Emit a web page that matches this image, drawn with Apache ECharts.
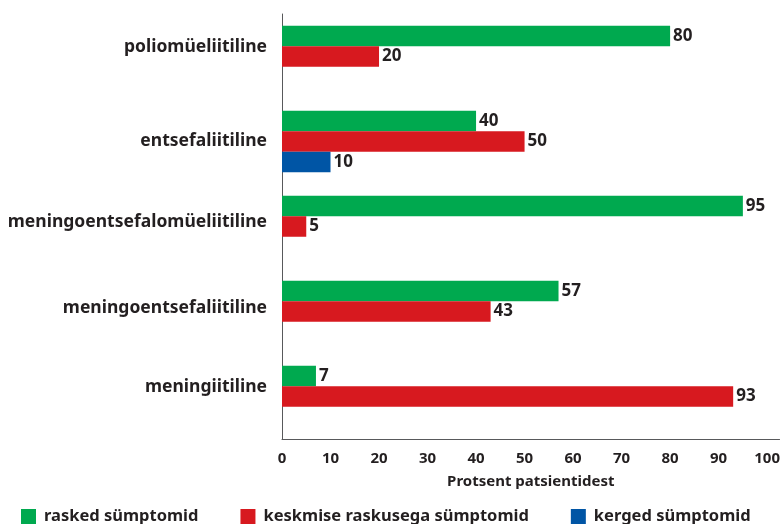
<!DOCTYPE html>
<html>
<head>
<meta charset="utf-8">
<script src="https://cdn.jsdelivr.net/npm/echarts@6/dist/echarts.min.js"></script>
<style>
    html, body { margin: 0; padding: 0; background: #fff; }
    #chart { width: 783px; height: 524px; }
</style>
</head>
<body>
<div id="chart"></div>
<script>
// andmed
var categories = ['poliomüeliitiline', 'entsefaliitiline', 'meningoentsefalomüeliitiline', 'meningoentsefaliitiline', 'meningiitiline'];
var rasked = [80, 40, 95, 57, 7];
var keskmised = [20, 50, 5, 43, 93];
var kerged = [null, 10, null, null, null];
var seriesNames = ['rasked sümptomid', 'keskmise raskusega sümptomid', 'kerged sümptomid'];

(function () {
    var myChart = echarts.init(document.getElementById('chart'));
    var font = 'Noto Sans';
    var textColor = '#231f20';
    // silt nihutatakse veidi üles, kui kategooria kolmas tulp puudub
    var shiftStyle = ['s10', 'c', 's5', 's4', 's10'];
    var labelStyle = { fontFamily: font, fontWeight: 'bold', fontSize: 17.5, color: textColor };

    function barSeries(name, data) {
        return {
            name: name,
            type: 'bar',
            data: data,
            barGap: 0,
            barCategoryGap: '27.6%',
            label: {
                show: true,
                position: 'right',
                distance: 3,
                fontFamily: font,
                fontWeight: 'bold',
                fontSize: 17,
                color: textColor
            }
        };
    }

    var option = {
        animation: false,
        color: ['#00a94f', '#d7191f', '#0055a5'],
        grid: {
            left: 282,
            right: 0,
            top: 14,
            bottom: 85
        },
        legend: {
            left: 16,
            top: 503,
            icon: 'rect',
            itemWidth: 15,
            itemHeight: 15,
            itemGap: 42,
            data: seriesNames,
            textStyle: {
                fontFamily: font,
                fontWeight: 'bold',
                fontSize: 16.5,
                color: textColor,
                padding: [0, 0, 0, 3]
            }
        },
        xAxis: {
            type: 'value',
            min: 0,
            max: 102.56,
            interval: 10,
            name: 'Protsent patsientidest',
            nameLocation: 'middle',
            nameGap: 35,
            nameTextStyle: {
                fontFamily: font,
                fontWeight: 'bold',
                fontSize: 15,
                color: textColor
            },
            axisLine: { show: true, lineStyle: { color: '#58595b', width: 1 } },
            axisTick: { show: false },
            splitLine: { show: false },
            axisLabel: {
                margin: 12,
                fontFamily: font,
                fontWeight: 'bold',
                fontSize: 15,
                color: textColor,
                formatter: function (v) {
                    return v % 10 === 0 ? v : '';
                }
            }
        },
        yAxis: {
            type: 'category',
            inverse: true,
            data: categories,
            axisLine: { show: true, lineStyle: { color: '#58595b', width: 1 } },
            axisTick: { show: false },
            axisLabel: {
                margin: 15,
                formatter: function (v, i) {
                    return '{' + shiftStyle[i] + '|' + v + '}';
                },
                rich: {
                    s10: Object.assign({ padding: [0, 0, 19, 0] }, labelStyle),
                    s5: Object.assign({ padding: [0, 0, 9, 0] }, labelStyle),
                    s4: Object.assign({ padding: [0, 0, 7, 0] }, labelStyle),
                    c: Object.assign({}, labelStyle)
                }
            }
        },
        series: [
            barSeries(seriesNames[0], rasked),
            barSeries(seriesNames[1], keskmised),
            barSeries(seriesNames[2], kerged)
        ]
    };
    myChart.setOption(option);
})();
</script>
</body>
</html>
